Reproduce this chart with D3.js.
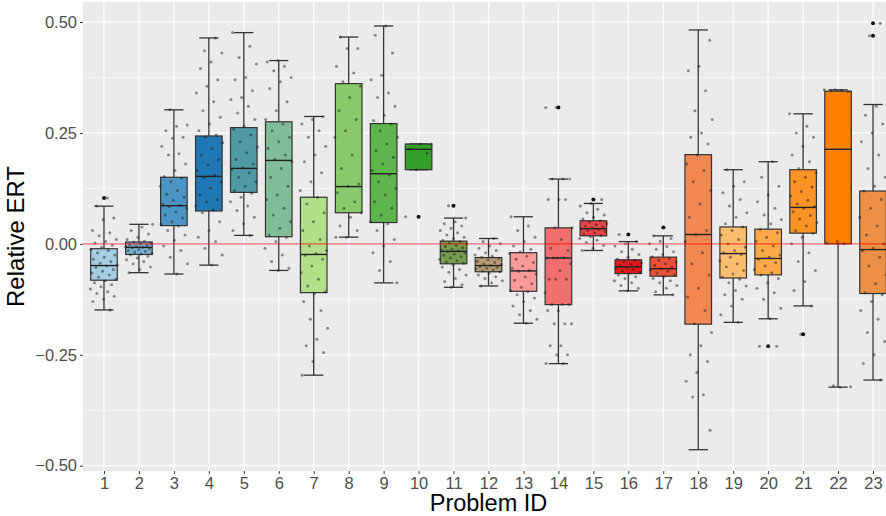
<!DOCTYPE html>
<html>
<head>
<meta charset="utf-8">
<script src="https://cdn.jsdelivr.net/npm/d3@7"></script>
<style>
  body { margin: 0; background: #fff; }
  svg { font-family: "Liberation Sans", Arial, sans-serif; }
  .axis text { fill: #4d4d4d; font-size: 16.5px; }
  .axis line { stroke: #333; }
  .axis path { display: none; }
</style>
</head>
<body>
<svg id="chart"></svg>
<script>
// problem ids
const problems = d3.range(1, 24);

// box statistics (whisker low, q1, median, q3, whisker high)
const whiskerLo = [-0.149, -0.065, -0.068, -0.048, 0.019, -0.060, -0.296, 0.015, -0.088, 0.167, -0.098, -0.095,
  -0.179, -0.270, -0.015, -0.106, -0.115, -0.464, -0.177, -0.169, -0.140, -0.323, -0.307];
const q1 = [-0.082, -0.024, 0.041, 0.074, 0.116, 0.016, -0.110, 0.070, 0.048, 0.167, -0.045, -0.063,
  -0.107, -0.137, 0.018, -0.067, -0.073, -0.181, -0.077, -0.070, 0.024, 0.000, -0.112];
const medians = [-0.049, -0.008, 0.086, 0.152, 0.170, 0.188, -0.024, 0.129, 0.158, 0.213, -0.017, -0.049,
  -0.061, -0.032, 0.034, -0.052, -0.056, 0.021, -0.022, -0.033, 0.082, 0.213, -0.013];
const q3 = [-0.011, 0.004, 0.150, 0.243, 0.262, 0.275, 0.105, 0.361, 0.271, 0.225, 0.006, -0.031,
  -0.020, 0.036, 0.052, -0.036, -0.030, 0.201, 0.038, 0.033, 0.167, 0.344, 0.119];
const whiskerHi = [0.085, 0.044, 0.302, 0.464, 0.476, 0.413, 0.287, 0.466, 0.491, 0.225, 0.058, 0.012,
  0.061, 0.146, 0.091, 0.005, 0.018, 0.482, 0.167, 0.185, 0.293, 0.347, 0.314];

// outliers [problem, value]
const outliers = [[1, 0.103], [10, 0.061], [11, 0.086], [14, 0.307], [15, 0.100], [16, 0.021],
  [17, 0.037], [20, -0.231], [21, -0.204], [23, 0.497], [23, 0.469]];

// individual runs (jittered points), one list per problem
const runs = [
  [0.103, 0.085, 0.058, 0.055, 0.030, 0.025, 0.018, 0.010, 0.005, 0.002, -0.003, -0.008, -0.012, -0.015, -0.020, -0.025, -0.030, -0.035, -0.040, -0.044, -0.048, -0.050, -0.053, -0.058, -0.062, -0.066, -0.070, -0.075, -0.080, -0.083, -0.088, -0.092, -0.097, -0.102, -0.108, -0.112, -0.118, -0.125, -0.130, -0.149],
  [0.044, 0.038, 0.030, 0.022, 0.015, 0.010, 0.006, 0.004, 0.002, 0.000, -0.002, -0.004, -0.006, -0.007, -0.008, -0.009, -0.011, -0.013, -0.015, -0.017, -0.019, -0.021, -0.023, -0.025, -0.028, -0.032, -0.036, -0.040, -0.045, -0.052, -0.058, -0.065],
  [0.302, 0.268, 0.265, 0.255, 0.240, 0.238, 0.220, 0.203, 0.200, 0.180, 0.165, 0.152, 0.148, 0.140, 0.130, 0.120, 0.112, 0.105, 0.098, 0.090, 0.087, 0.084, 0.080, 0.072, 0.065, 0.058, 0.050, 0.044, 0.040, 0.030, 0.020, 0.008, -0.005, -0.015, -0.030, -0.045, -0.068],
  [0.464, 0.435, 0.430, 0.410, 0.395, 0.370, 0.355, 0.340, 0.320, 0.300, 0.285, 0.270, 0.255, 0.245, 0.240, 0.228, 0.215, 0.200, 0.190, 0.178, 0.165, 0.155, 0.150, 0.140, 0.125, 0.110, 0.100, 0.095, 0.085, 0.076, 0.070, 0.050, 0.030, 0.015, 0.005, -0.010, -0.025, -0.048],
  [0.476, 0.445, 0.420, 0.405, 0.375, 0.370, 0.345, 0.330, 0.325, 0.310, 0.295, 0.280, 0.265, 0.258, 0.245, 0.230, 0.218, 0.205, 0.190, 0.180, 0.172, 0.168, 0.160, 0.150, 0.140, 0.130, 0.120, 0.114, 0.105, 0.095, 0.085, 0.075, 0.060, 0.045, 0.030, 0.019],
  [0.413, 0.410, 0.400, 0.390, 0.375, 0.365, 0.350, 0.320, 0.300, 0.280, 0.270, 0.255, 0.240, 0.230, 0.215, 0.200, 0.190, 0.185, 0.170, 0.150, 0.130, 0.110, 0.100, 0.080, 0.065, 0.050, 0.035, 0.020, 0.014, 0.005, -0.010, -0.025, -0.040, -0.055, -0.060],
  [0.287, 0.280, 0.270, 0.255, 0.240, 0.220, 0.200, 0.185, 0.160, 0.140, 0.120, 0.105, 0.090, 0.070, 0.050, 0.030, 0.010, -0.005, -0.015, -0.022, -0.026, -0.035, -0.050, -0.065, -0.080, -0.095, -0.108, -0.112, -0.130, -0.150, -0.170, -0.190, -0.215, -0.230, -0.245, -0.265, -0.296],
  [0.466, 0.440, 0.440, 0.400, 0.385, 0.365, 0.355, 0.330, 0.300, 0.280, 0.255, 0.240, 0.200, 0.170, 0.135, 0.130, 0.115, 0.095, 0.080, 0.070, 0.060, 0.040, 0.030, 0.015, 0.015],
  [0.491, 0.470, 0.430, 0.380, 0.370, 0.340, 0.330, 0.310, 0.290, 0.278, 0.270, 0.255, 0.240, 0.225, 0.210, 0.195, 0.180, 0.165, 0.155, 0.140, 0.125, 0.110, 0.095, 0.080, 0.065, 0.050, 0.045, 0.030, 0.010, -0.005, -0.020, -0.040, -0.060, -0.088],
  [0.225, 0.225, 0.213, 0.204, 0.167, 0.061],
  [0.086, 0.058, 0.050, 0.045, 0.040, 0.035, 0.030, 0.025, 0.020, 0.015, 0.012, 0.008, 0.005, 0.002, 0.000, -0.003, -0.006, -0.009, -0.012, -0.014, -0.016, -0.018, -0.020, -0.023, -0.026, -0.029, -0.032, -0.035, -0.038, -0.041, -0.044, -0.047, -0.052, -0.058, -0.064, -0.070, -0.078, -0.085, -0.092, -0.098],
  [0.012, 0.005, 0.000, -0.005, -0.010, -0.015, -0.020, -0.025, -0.028, -0.030, -0.033, -0.036, -0.039, -0.042, -0.045, -0.047, -0.049, -0.051, -0.053, -0.055, -0.057, -0.059, -0.061, -0.063, -0.066, -0.070, -0.074, -0.078, -0.083, -0.088, -0.095],
  [0.061, 0.040, 0.030, 0.015, 0.005, -0.005, -0.012, -0.018, -0.022, -0.028, -0.035, -0.042, -0.050, -0.055, -0.060, -0.062, -0.068, -0.075, -0.082, -0.090, -0.098, -0.105, -0.108, -0.115, -0.122, -0.130, -0.140, -0.150, -0.160, -0.170, -0.179],
  [0.307, 0.307, 0.146, 0.146, 0.146, 0.100, 0.100, 0.100, 0.036, 0.036, 0.010, -0.010, -0.015, -0.032, -0.032, -0.032, -0.032, -0.045, -0.060, -0.080, -0.080, -0.080, -0.110, -0.137, -0.137, -0.137, -0.150, -0.150, -0.180, -0.180, -0.180, -0.230, -0.230, -0.250, -0.250, -0.270, -0.270],
  [0.100, 0.091, 0.085, 0.078, 0.070, 0.065, 0.060, 0.056, 0.052, 0.049, 0.046, 0.043, 0.040, 0.038, 0.036, 0.034, 0.032, 0.030, 0.028, 0.025, 0.022, 0.019, 0.016, 0.012, 0.008, 0.003, -0.004, -0.010, -0.015],
  [0.021, 0.005, 0.000, -0.005, -0.012, -0.018, -0.024, -0.030, -0.034, -0.037, -0.040, -0.043, -0.046, -0.049, -0.051, -0.053, -0.055, -0.058, -0.061, -0.064, -0.067, -0.070, -0.074, -0.078, -0.083, -0.088, -0.094, -0.100, -0.106],
  [0.037, 0.018, 0.012, 0.006, 0.000, -0.006, -0.012, -0.018, -0.024, -0.029, -0.033, -0.037, -0.041, -0.045, -0.049, -0.053, -0.056, -0.059, -0.062, -0.066, -0.070, -0.074, -0.078, -0.083, -0.088, -0.094, -0.100, -0.108, -0.115],
  [0.459, 0.400, 0.390, 0.345, 0.300, 0.280, 0.250, 0.240, 0.225, 0.200, 0.180, 0.165, 0.140, 0.120, 0.090, 0.060, 0.030, 0.021, 0.005, -0.020, -0.045, -0.070, -0.100, -0.120, -0.150, -0.180, -0.200, -0.230, -0.250, -0.265, -0.290, -0.310, -0.340, -0.345, -0.420],
  [0.167, 0.140, 0.130, 0.115, 0.100, 0.085, 0.070, 0.060, 0.045, 0.038, 0.030, 0.020, 0.010, 0.000, -0.008, -0.015, -0.020, -0.024, -0.030, -0.038, -0.045, -0.052, -0.060, -0.068, -0.075, -0.080, -0.088, -0.095, -0.105, -0.115, -0.125, -0.140, -0.160, -0.177],
  [0.185, 0.150, 0.130, 0.110, 0.095, 0.080, 0.065, 0.055, 0.045, 0.033, 0.025, 0.015, 0.005, -0.005, -0.015, -0.025, -0.030, -0.035, -0.042, -0.050, -0.058, -0.065, -0.070, -0.078, -0.088, -0.100, -0.110, -0.125, -0.145, -0.169, -0.231, -0.231],
  [0.293, 0.265, 0.250, 0.240, 0.220, 0.200, 0.185, 0.170, 0.160, 0.150, 0.140, 0.128, 0.118, 0.108, 0.098, 0.090, 0.084, 0.080, 0.072, 0.064, 0.056, 0.048, 0.040, 0.030, 0.024, 0.015, 0.000, -0.020, -0.040, -0.060, -0.085, -0.105, -0.140, -0.204],
  [0.347, 0.347, 0.346, 0.345, 0.343, 0.005, 0.002, 0.000, -0.320, -0.322, -0.323],
  [0.497, 0.469, 0.314, 0.310, 0.290, 0.270, 0.250, 0.230, 0.200, 0.170, 0.150, 0.130, 0.119, 0.100, 0.080, 0.060, 0.040, 0.020, 0.000, -0.010, -0.016, -0.030, -0.050, -0.070, -0.090, -0.110, -0.115, -0.130, -0.150, -0.170, -0.200, -0.220, -0.250, -0.270, -0.307]
];

// palette anchors (every third box sits on one)
const paired = ["#A6CEE3", "#1F78B4", "#B2DF8A", "#33A02C", "#FB9A99", "#E31A1C", "#FDBF6F", "#FF7F00", "#CAB2D6"];

const yTicks = [-0.5, -0.25, 0, 0.25, 0.5];

// layout
const w = 886;
const h = 516;
const panel = { left: 83, right: 894, top: 2, bottom: 471 };

const svg = d3.select("#chart").attr("width", w).attr("height", h);

const x = d3.scalePoint()
  .domain(problems)
  .range([panel.left, panel.right])
  .padding(0.6);
const step = x.step();

const y = d3.scaleLinear()
  .domain([-0.512, 0.545])
  .range([panel.bottom, panel.top]);

const color = d3.scaleLinear()
  .domain(paired.map((c, i) => 1 + i * 3))
  .range(paired)
  .interpolate(d3.interpolateRgb);

// panel background
svg.append("rect")
  .attr("x", panel.left)
  .attr("y", panel.top)
  .attr("width", panel.right - panel.left)
  .attr("height", panel.bottom - panel.top)
  .attr("fill", "#EBEBEB");

const grid = svg.append("g");

// minor grid
grid.selectAll(".minor")
  .data(d3.range(-0.375, 0.5, 0.25))
  .enter().append("line")
  .attr("x1", panel.left).attr("x2", panel.right)
  .attr("y1", d => y(d)).attr("y2", d => y(d))
  .attr("stroke", "#fff").attr("stroke-width", 0.6);

// major grid
grid.selectAll(".major")
  .data(yTicks)
  .enter().append("line")
  .attr("x1", panel.left).attr("x2", panel.right)
  .attr("y1", d => y(d)).attr("y2", d => y(d))
  .attr("stroke", "#fff").attr("stroke-width", 1.2);

grid.selectAll(".vmajor")
  .data(problems)
  .enter().append("line")
  .attr("x1", d => x(d)).attr("x2", d => x(d))
  .attr("y1", panel.top).attr("y2", panel.bottom)
  .attr("stroke", "#fff").attr("stroke-width", 1.2);

const boxes = problems.map((p, i) => ({
  p, lo: whiskerLo[i], q1: q1[i], med: medians[i], q3: q3[i], hi: whiskerHi[i]
}));

// error bar whiskers
const capW = step * 0.55;
const bars = svg.append("g").attr("stroke", "#333").attr("stroke-width", 1.3);
bars.selectAll(".stem")
  .data(boxes)
  .enter().append("line")
  .attr("x1", d => x(d.p)).attr("x2", d => x(d.p))
  .attr("y1", d => y(d.lo)).attr("y2", d => y(d.hi));
bars.selectAll(".capHi")
  .data(boxes)
  .enter().append("line")
  .attr("x1", d => x(d.p) - capW / 2).attr("x2", d => x(d.p) + capW / 2)
  .attr("y1", d => y(d.hi)).attr("y2", d => y(d.hi));
bars.selectAll(".capLo")
  .data(boxes)
  .enter().append("line")
  .attr("x1", d => x(d.p) - capW / 2).attr("x2", d => x(d.p) + capW / 2)
  .attr("y1", d => y(d.lo)).attr("y2", d => y(d.lo));

// boxes
const boxW = step * 0.76;
const bx = svg.append("g");
bx.selectAll("rect")
  .data(boxes)
  .enter().append("rect")
  .attr("x", d => x(d.p) - boxW / 2)
  .attr("y", d => y(d.q3))
  .attr("width", boxW)
  .attr("height", d => Math.max(0.5, y(d.q1) - y(d.q3)))
  .attr("fill", d => color(d.p))
  .attr("stroke", "#333")
  .attr("stroke-width", 1.2);
bx.selectAll(".med")
  .data(boxes)
  .enter().append("line")
  .attr("x1", d => x(d.p) - boxW / 2).attr("x2", d => x(d.p) + boxW / 2)
  .attr("y1", d => y(d.med)).attr("y2", d => y(d.med))
  .attr("stroke", "#222").attr("stroke-width", 1.4);

// jittered runs (fixed golden-ratio offsets instead of random jitter)
const pts = [];
runs.forEach((vals, i) => {
  vals.forEach((v, j) => {
    const u = ((j + 1) * 0.6180339887 + i * 0.37) % 1;
    pts.push({ p: problems[i], v, off: (u * 2 - 1) * 0.4 * step });
  });
});
svg.append("g").selectAll("circle")
  .data(pts)
  .enter().append("circle")
  .attr("cx", d => x(d.p) + d.off)
  .attr("cy", d => y(d.v))
  .attr("r", 1.5)
  .attr("fill", "#222")
  .attr("fill-opacity", 0.5);

// outliers
svg.append("g").selectAll("circle")
  .data(outliers)
  .enter().append("circle")
  .attr("cx", d => x(d[0]))
  .attr("cy", d => y(d[1]))
  .attr("r", 2)
  .attr("fill", "#111");

// reference line at zero
svg.append("line")
  .attr("x1", panel.left).attr("x2", panel.right)
  .attr("y1", y(0)).attr("y2", y(0))
  .attr("stroke", "#FF0000").attr("stroke-opacity", 0.6).attr("stroke-width", 1.2);

// axes
svg.append("g")
  .attr("class", "axis")
  .attr("transform", `translate(${panel.left},0)`)
  .call(d3.axisLeft(y).tickValues(yTicks).tickFormat(d3.format(".2f")).tickSize(3).tickPadding(3));

svg.append("g")
  .attr("class", "axis")
  .attr("transform", `translate(0,${panel.bottom})`)
  .call(d3.axisBottom(x).tickSize(3).tickPadding(3));

// axis titles
svg.append("text")
  .attr("x", (panel.left + panel.right) / 2)
  .attr("y", 511)
  .attr("text-anchor", "middle")
  .style("font-size", "23.5px")
  .text("Problem ID");

svg.append("text")
  .attr("transform", `translate(24,${(panel.top + panel.bottom) / 2}) rotate(-90)`)
  .attr("text-anchor", "middle")
  .style("font-size", "24px")
  .text("Relative ERT");
</script>
</body>
</html>
